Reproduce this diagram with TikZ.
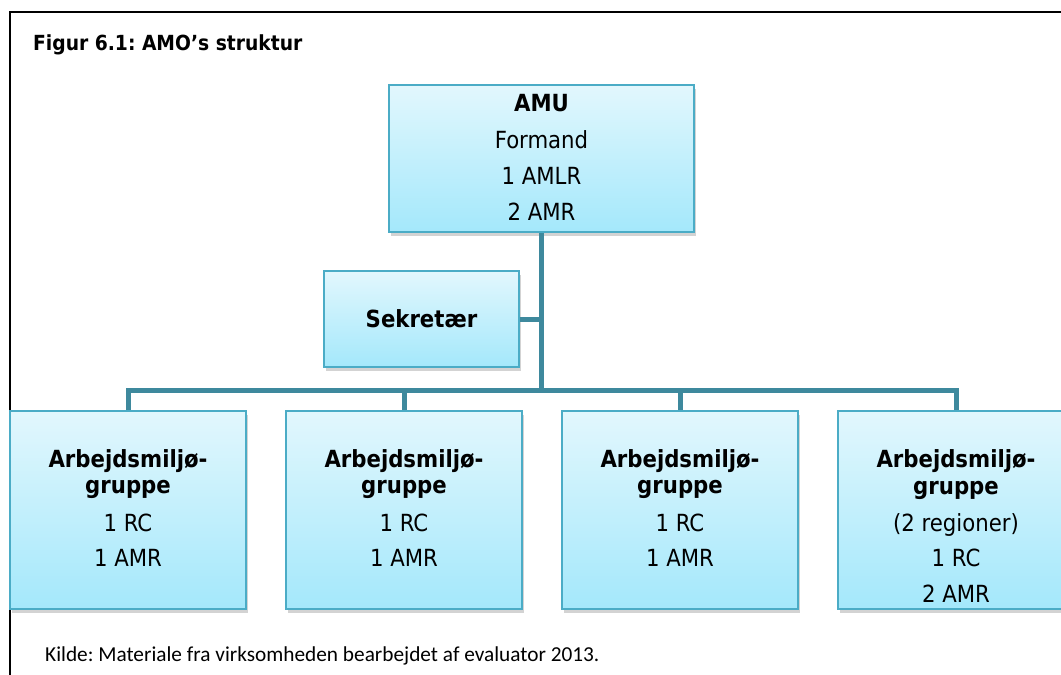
\documentclass[tikz,border=0pt]{standalone}
\usepackage{fontspec}
\setmainfont{DejaVu Sans Condensed}
\newfontfamily\notefont{Carlito}
\usetikzlibrary{shadows}

\definecolor{boxedge}{RGB}{75,172,198}
\definecolor{boxtop}{RGB}{226,247,253}
\definecolor{boxbottom}{RGB}{164,232,251}
\definecolor{treeline}{RGB}{62,137,157}

\begin{document}
\frenchspacing
\begin{tikzpicture}[x=1pt,y=-1pt,
  orgbox/.style={draw=boxedge, line width=1.8pt, top color=boxtop, bottom color=boxbottom,
    inner sep=0pt, drop shadow={shadow xshift=2pt, shadow yshift=-3.5pt, opacity=0.35}},
  txt/.style={anchor=base, inner sep=0pt, font=\fontsize{23.6}{27}\selectfont},
  btxt/.style={txt, font=\fontsize{23.6}{27}\selectfont\bfseries},
  tree/.style={draw=treeline, line width=5pt, line cap=butt, line join=miter},
  frame/.style={draw=black, line width=2pt}]

\useasboundingbox (0,0) rectangle (1061,675);

% outer frame of the figure
\draw[frame] (1062,12) -- (9.5,12) -- (9.5,676);

% caption and source line
\node[anchor=base west, inner sep=0pt, font=\fontsize{20.8}{24}\selectfont\bfseries] (title) at (33,50) {Figur 6.1: AMO’s struktur};
\node[anchor=base west, inner sep=0pt, font=\notefont\fontsize{21.3}{25}\selectfont] (source) at (45,661) {Kilde: Materiale fra virksomheden bearbejdet af evaluator 2013.};

% boxes
\node[orgbox, minimum width=305pt, minimum height=147pt] (amu) at (541.5,158.5) {};
\node[orgbox, minimum width=195pt, minimum height=96pt] (sek) at (421.5,319) {};
\foreach \i/\x in {1/128, 2/404, 3/680, 4/956}
  \node[orgbox, minimum width=236pt, minimum height=198pt] (b\i) at (\x,510) {};

% connectors
\coordinate (hub) at (541.5,390);
\draw[tree] (amu.south) -- (hub);
\draw[tree] (sek.east) -- (sek.east -| amu.south);
\draw[tree] (b1.north) -- (b1.north |- hub) -- (b4.north |- hub) -- (b4.north);
\draw[tree] (b2.north) -- (b2.north |- hub);
\draw[tree] (b3.north) -- (b3.north |- hub);

% texts
\node[btxt] (amu-1) at ([yshift=-27.7pt]amu.north) {AMU};
\node[txt]  (amu-2) at ([yshift=-64pt]amu.north) {Formand};
\node[txt]  (amu-3) at ([yshift=-100.7pt]amu.north) {1 AMLR};
\node[txt]  (amu-4) at ([yshift=-136pt]amu.north) {2 AMR};

\node[btxt] (sek-1) at ([yshift=-8pt]sek.center) {Sekretær};

\foreach \i in {1,2,3} {
  \node[btxt] (b\i-1) at ([yshift=-57pt]b\i.north) {Arbejdsmiljø-};
  \node[btxt] (b\i-2) at ([yshift=-83pt]b\i.north) {gruppe};
  \node[txt]  (b\i-3) at ([yshift=-121pt]b\i.north) {1 RC};
  \node[txt]  (b\i-4) at ([yshift=-156pt]b\i.north) {1 AMR};
}
\node[btxt] (b4-1) at ([yshift=-57.5pt]b4.north) {Arbejdsmiljø-};
\node[btxt] (b4-2) at ([yshift=-84pt]b4.north) {gruppe};
\node[txt]  (b4-3) at ([yshift=-121pt]b4.north) {(2 regioner)};
\node[txt]  (b4-4) at ([yshift=-156pt]b4.north) {1 RC};
\node[txt]  (b4-5) at ([yshift=-192pt]b4.north) {2 AMR};

\end{tikzpicture}
\end{document}
